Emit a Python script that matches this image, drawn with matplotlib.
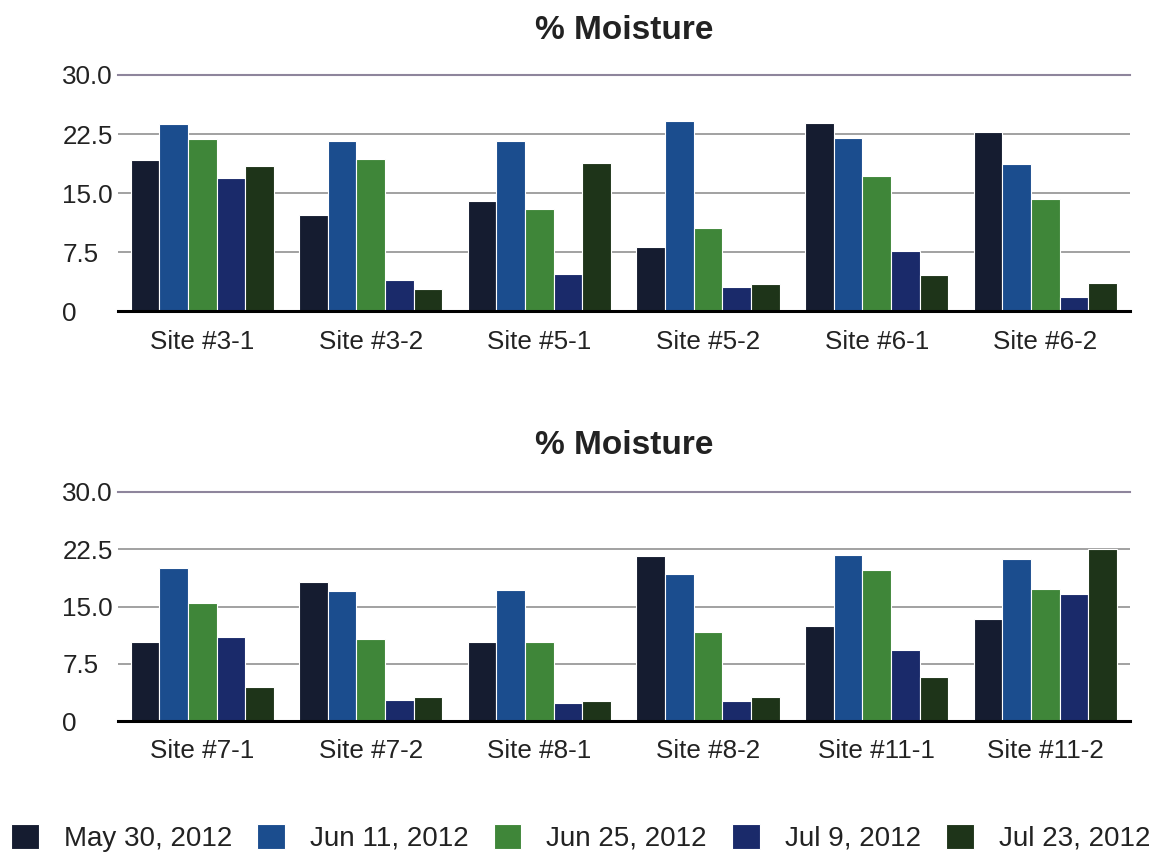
import matplotlib
matplotlib.use("Agg")
import matplotlib.pyplot as plt
import numpy as np

plt.rcParams['font.family'] = ['Liberation Sans', 'DejaVu Sans']

# data
sites_top = ["Site #3-1", "Site #3-2", "Site #5-1", "Site #5-2", "Site #6-1", "Site #6-2"]
sites_bottom = ["Site #7-1", "Site #7-2", "Site #8-1", "Site #8-2", "Site #11-1", "Site #11-2"]
dates = ["May 30, 2012", "Jun 11, 2012", "Jun 25, 2012", "Jul 9, 2012", "Jul 23, 2012"]

may30_top = [19.2, 12.2, 14.0, 8.1, 23.9, 22.7]
jun11_top = [23.8, 21.6, 21.6, 24.1, 22.0, 18.7]
jun25_top = [21.9, 19.3, 13.0, 10.5, 17.2, 14.2]
jul9_top = [16.9, 3.9, 4.7, 3.0, 7.6, 1.8]
jul23_top = [18.4, 2.8, 18.8, 3.4, 4.6, 3.6]

may30_bot = [10.4, 18.2, 10.4, 21.6, 12.4, 13.4]
jun11_bot = [20.0, 17.0, 17.2, 19.3, 21.7, 21.2]
jun25_bot = [15.5, 10.8, 10.4, 11.6, 19.8, 17.3]
jul9_bot = [11.0, 2.8, 2.4, 2.6, 9.3, 16.6]
jul23_bot = [4.4, 3.1, 2.6, 3.2, 5.8, 22.5]

yticks = [0, 7.5, 15, 22.5, 30]
ytick_labels = ["0", "7.5", "15.0", "22.5", "30.0"]

colors = ["#151c30", "#1b4d8e", "#3f8639", "#1a2a6a", "#1e3419"]
text_col = "#222222"

fig = plt.figure(figsize=(11.67, 8.63), dpi=100)
ax1 = fig.add_axes([0.101, 0.6396, 0.867, 0.2735])
ax2 = fig.add_axes([0.101, 0.1645, 0.867, 0.2654])

bar_w = 0.17


def draw(ax, sites, series, title_pad, x_pad):
    x = np.arange(len(sites))
    for i, vals in enumerate(series):
        ax.bar(x + (i - 2) * bar_w, vals, bar_w, color=colors[i],
               edgecolor="white", linewidth=0.8, label=dates[i], zorder=3)
    ax.set_xlim(-0.5, len(sites) - 0.5)
    ax.set_ylim(0, 30)
    ax.set_xticks(x)
    ax.set_xticklabels(sites, fontsize=18.7, color=text_col)
    ax.set_yticks(yticks)
    ax.set_yticklabels(ytick_labels, fontsize=18.7, color=text_col)
    for lab in ax.get_yticklabels():
        lab.set_horizontalalignment('left')
    ax.tick_params(axis='y', length=0, pad=40)
    ax.tick_params(axis='x', length=0, pad=x_pad)
    for s in ['top', 'right', 'left']:
        ax.spines[s].set_visible(False)
    ax.spines['bottom'].set_color('black')
    ax.spines['bottom'].set_linewidth(2.2)
    ax.spines['bottom'].set_zorder(4)
    for v in yticks[1:-1]:
        ax.axhline(v, color="#9a9a9a", linewidth=1.3, zorder=1)
    ax.axhline(30, color="#8e859c", linewidth=1.5, zorder=1, clip_on=False)
    ax.set_title("% Moisture", fontsize=24, fontweight='bold', color=text_col, pad=title_pad)


draw(ax1, sites_top, [may30_top, jun11_top, jun25_top, jul9_top, jul23_top], 26, 14)
draw(ax2, sites_bottom, [may30_bot, jun11_bot, jun25_bot, jul9_bot, jul23_bot], 27, 13)

handles, labels = ax1.get_legend_handles_labels()
leg = fig.legend(handles, labels, ncol=5, loc='lower left',
                 bbox_to_anchor=(0.0, 0.0, 0.995, 0.047), mode='expand',
                 frameon=False, fontsize=20, handlelength=1.0, handleheight=1.0,
                 handletextpad=0.9, borderaxespad=0.0, labelcolor=text_col)

plt.savefig("out.png", dpi=100, facecolor='white')
plt.close()
